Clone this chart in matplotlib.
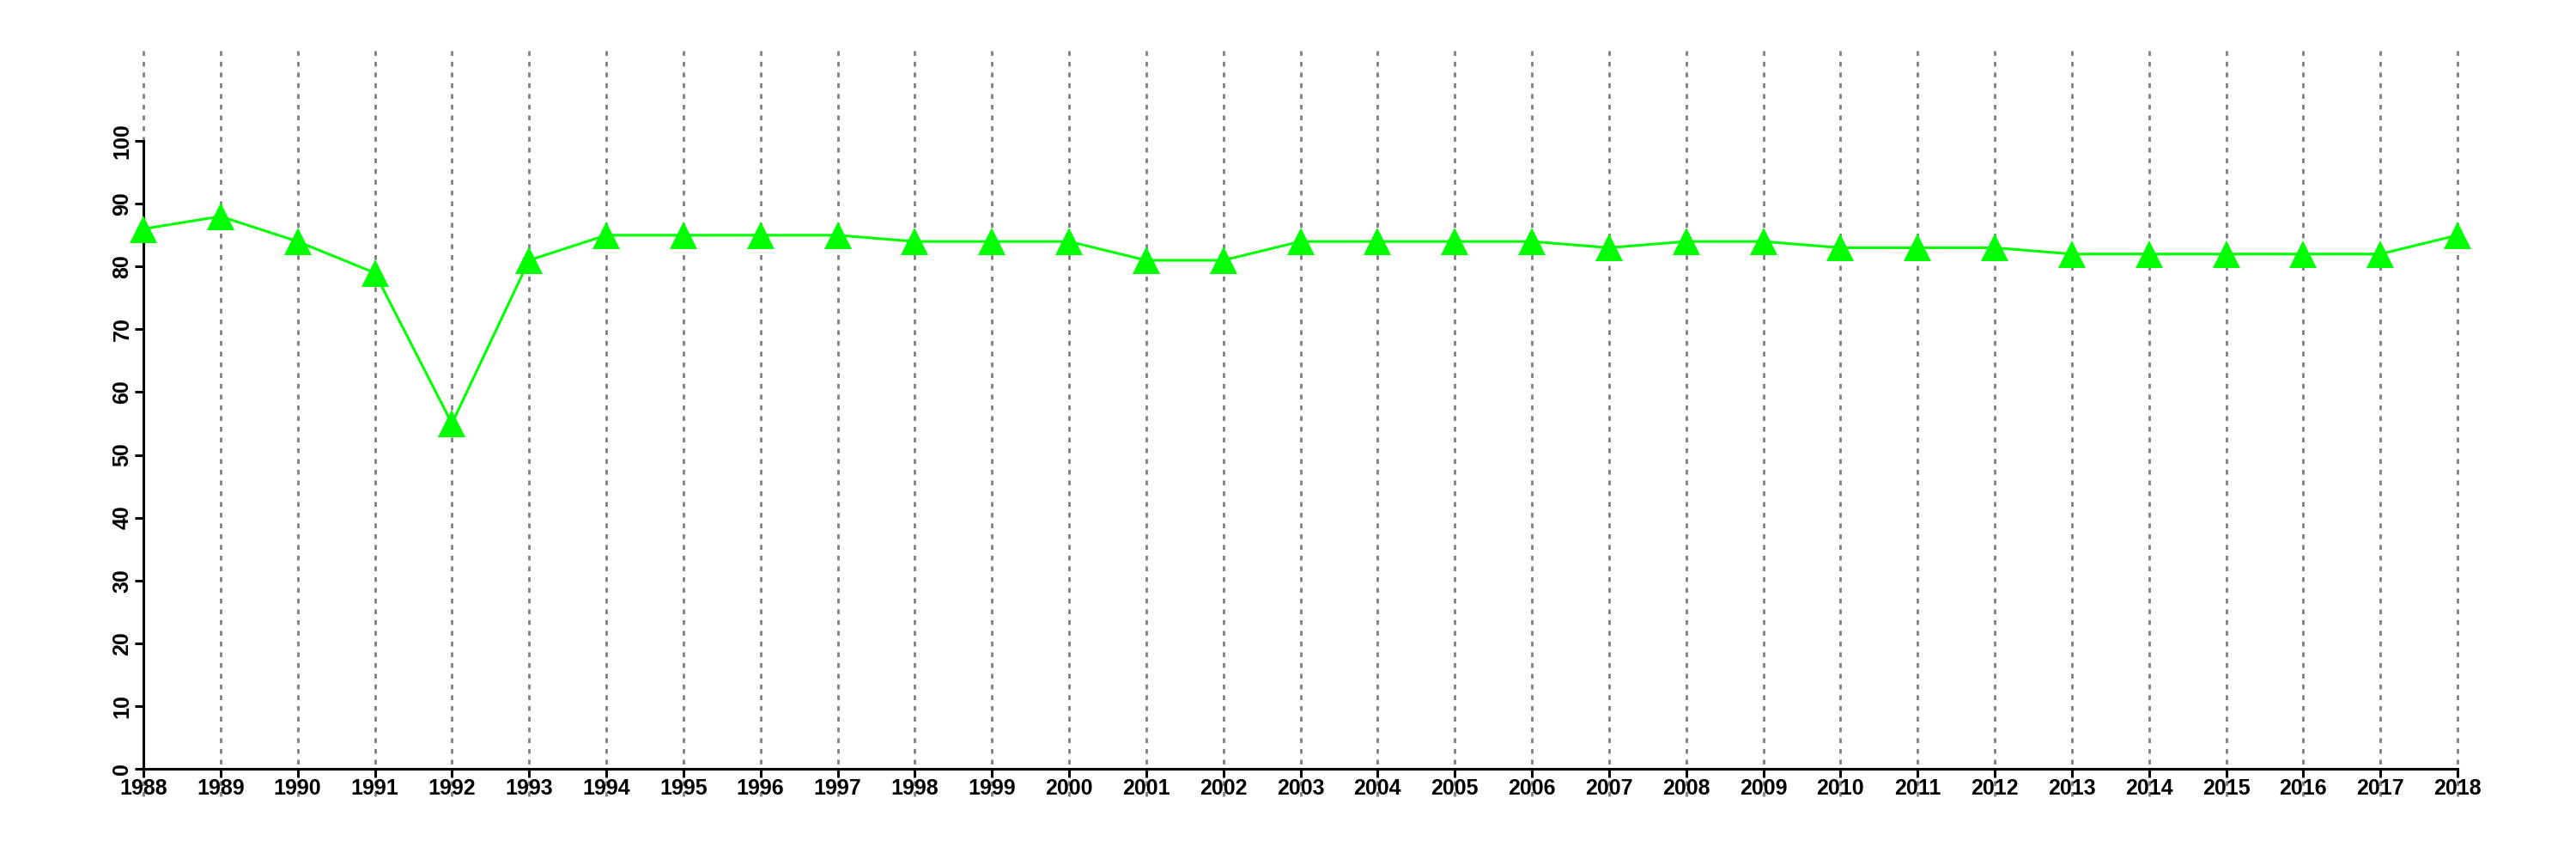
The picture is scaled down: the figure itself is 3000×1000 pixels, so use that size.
"""Yearly line chart with triangle markers, R base-graphics look."""

import matplotlib

matplotlib.use("Agg")
import matplotlib.pyplot as plt

years = list(range(1988, 2019))
values = [86, 88, 84, 79, 55, 81, 85, 85, 85, 85, 84, 84, 84, 81, 81, 84,
          84, 84, 84, 83, 84, 84, 83, 83, 83, 82, 82, 82, 82, 82, 85]
y_ticks = list(range(0, 101, 10))

plt.rcParams["font.family"] = ["Liberation Sans", "DejaVu Sans"]

fig = plt.figure(figsize=(30, 10), dpi=100)
# plot region spans pixel x 167..2862 (years), y 59..927
ax = fig.add_axes([167 / 3000, 73 / 1000, (2862 - 167) / 3000, (927 - 59) / 1000])
ax.set_xlim(1988, 2018)
ax.set_ylim(-4.4, 114.4)

for yr in years:
    ax.axvline(yr, color="#808080", linestyle=(0, (2, 2.5)), linewidth=2,
               zorder=1, clip_on=False)

ax.plot(years, values, color="#00ff00", linewidth=2.2, marker="^",
        markersize=23, markeredgewidth=0, zorder=3, clip_on=False)

for side in ("top", "right"):
    ax.spines[side].set_visible(False)
ax.spines["left"].set_position(("data", 1988))
ax.spines["bottom"].set_position(("data", 0))
ax.spines["left"].set_bounds(0, 100)
ax.spines["bottom"].set_bounds(1988, 2018)
for side in ("left", "bottom"):
    ax.spines[side].set_linewidth(2.2)
    ax.spines[side].set_zorder(2)

ax.set_xticks(years)
ax.set_xticklabels([str(y) for y in years], fontweight="bold")
ax.set_yticks(y_ticks)
ax.set_yticklabels([str(v) for v in y_ticks], rotation=90, va="center",
                   fontweight="bold")
ax.tick_params(axis="both", length=7, width=2.2, labelsize=18, pad=2)
ax.tick_params(axis="x", pad=1)

fig.savefig("out.png", dpi=100)
